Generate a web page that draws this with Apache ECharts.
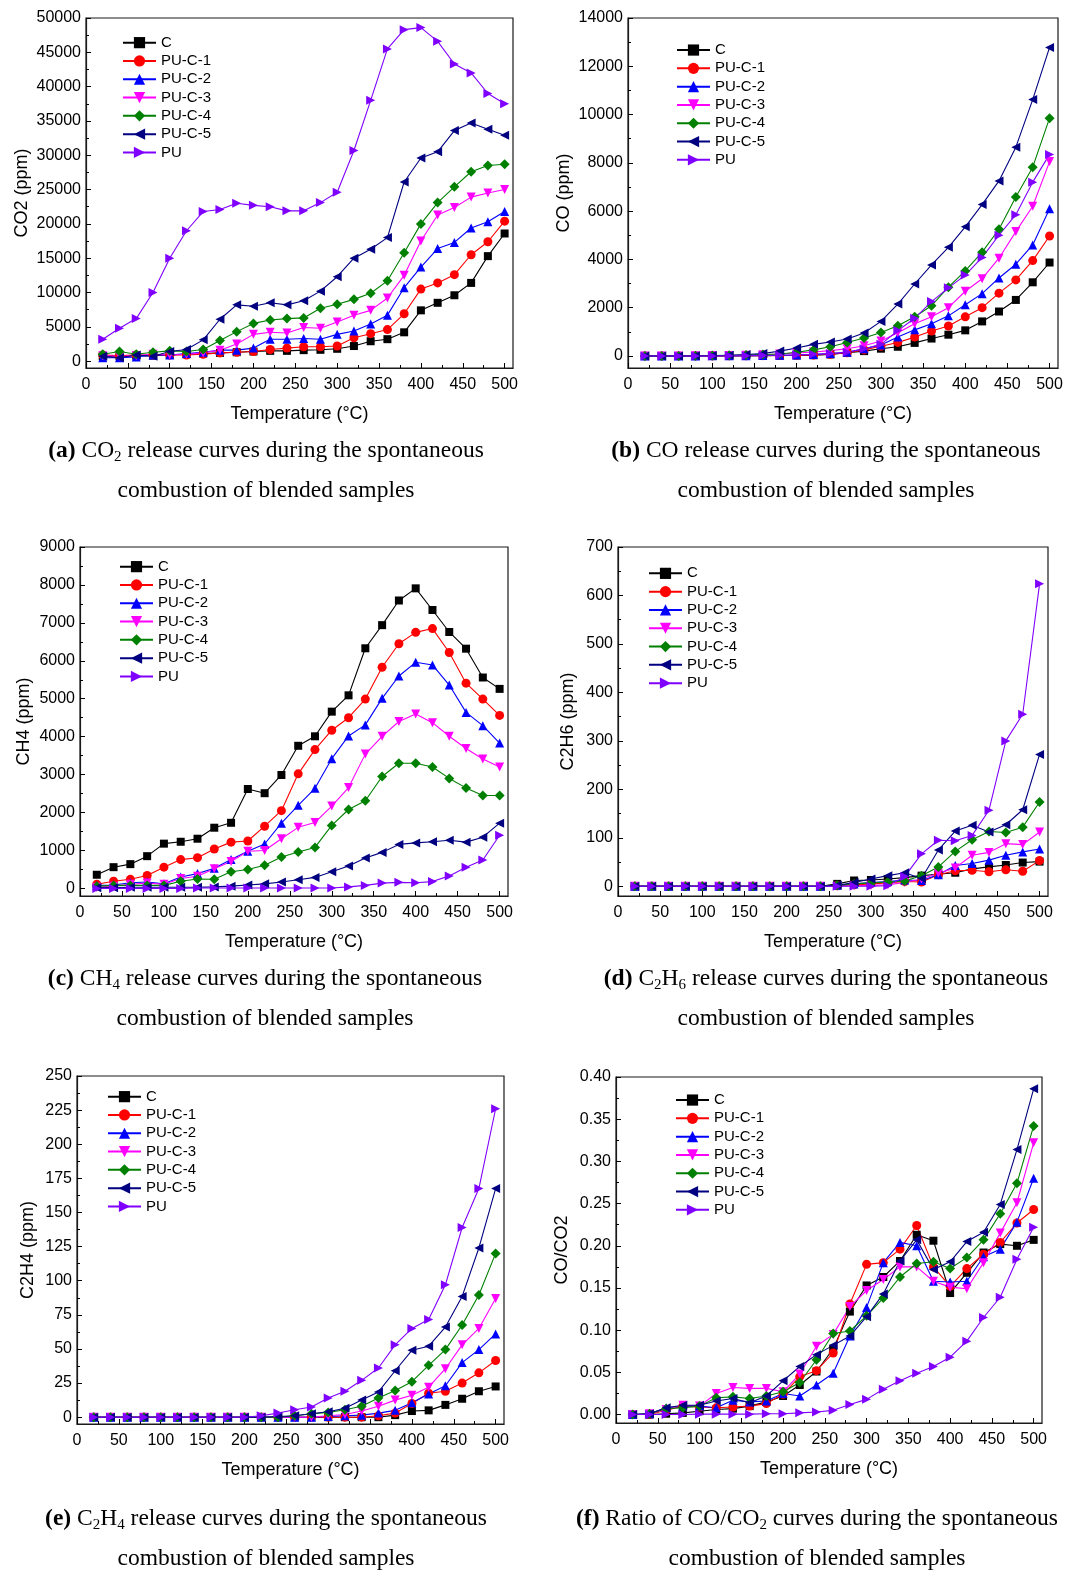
<!DOCTYPE html>
<html>
<head>
<meta charset="utf-8">
<script src="https://cdn.jsdelivr.net/npm/echarts@6/dist/echarts.min.js"></script>
<style>
html,body{margin:0;padding:0;background:#fff;}
#chart{width:1067px;height:1570px;}
</style>
</head>
<body>
<div id="chart"></div>
<script>
// ---------- shared data ----------
const temperature = [20,40,60,80,100,120,140,160,180,200,220,240,260,280,300,320,340,360,380,400,420,440,460,480,500];
const seriesNames = ['C','PU-C-1','PU-C-2','PU-C-3','PU-C-4','PU-C-5','PU'];
const xTicks = [0,50,100,150,200,250,300,350,400,450,500];

// ---------- (a) CO2 (ppm) ----------
const co2Ticks = [0,5000,10000,15000,20000,25000,30000,35000,40000,45000,50000];
const co2_C   = [700,700,800,800,900,1000,1100,1200,1300,1400,1500,1500,1600,1650,1800,2200,2900,3200,4200,7400,8500,9600,11400,15300,18600];
const co2_PU1 = [900,800,900,900,900,900,1000,1200,1300,1400,1700,1900,2100,2100,2200,3400,4000,4600,6900,10500,11400,12600,15500,17400,20400];
const co2_PU2 = [500,500,600,900,900,1100,1300,1600,1600,1900,3200,3200,3300,3200,3900,4400,5400,6700,10700,13700,16400,17300,19400,20300,21800];
const co2_PU3 = [800,700,800,1000,900,1000,1200,1600,2500,3900,4200,4100,4900,4800,5700,6700,7400,9200,12500,17500,21300,22400,23900,24500,25000];
const co2_PU4 = [1000,1400,1000,1300,1500,1400,1700,3000,4300,5500,6000,6200,6300,7700,8300,9000,9900,11700,15800,20000,23100,25400,27600,28500,28700];
const co2_PU5 = [700,500,900,700,1400,1700,3100,6100,8200,8000,8500,8200,8800,10200,12300,15000,16300,18000,26100,29600,30500,33600,34700,33800,32900];
const co2_PU  = [3200,4800,6200,10000,15000,19000,21800,22100,23000,22700,22500,21900,21900,23100,24600,30700,38000,45500,48300,48600,46600,43300,42000,39000,37500];

// ---------- (b) CO (ppm) ----------
const coTicks = [0,2000,4000,6000,8000,10000,12000,14000];
const co_C   = [0,0,0,0,0,0,5,10,15,20,30,60,130,200,300,380,540,720,880,1060,1430,1840,2320,3050,3870];
const co_PU1 = [0,0,0,0,0,5,8,10,15,25,40,70,130,250,400,560,780,1030,1240,1620,2000,2600,3150,3950,4970];
const co_PU2 = [0,0,0,0,5,8,10,15,25,40,60,100,150,300,450,780,1080,1330,1660,2120,2580,3230,3800,4600,6100];
const co_PU3 = [0,0,0,10,15,20,30,50,80,120,160,220,300,420,620,960,1330,1620,2000,2680,3200,4050,5150,6200,8050];
const co_PU4 = [0,0,0,10,20,30,40,60,80,150,250,380,560,740,970,1250,1620,2080,2850,3520,4300,5250,6580,7820,9850];
const co_PU5 = [0,0,0,10,15,30,60,100,200,330,480,580,700,950,1430,2150,2980,3770,4500,5350,6270,7250,8650,10620,12780];
const co_PU  = [0,0,0,0,0,5,10,20,30,50,70,100,150,300,480,1050,1560,2250,2820,3350,4080,5000,5850,7200,8350];

// ---------- (c) CH4 (ppm) ----------
const ch4Ticks = [0,1000,2000,3000,4000,5000,6000,7000,8000,9000];
const ch4_C   = [360,560,640,850,1180,1230,1310,1600,1730,2620,2510,2990,3760,4010,4660,5090,6330,6940,7590,7910,7340,6760,6320,5560,5260];
const ch4_PU1 = [110,190,240,340,560,760,810,1040,1220,1250,1640,2050,3020,3660,4170,4500,4990,5830,6450,6750,6850,6220,5410,4990,4560];
const ch4_PU2 = [80,90,150,170,120,300,390,530,760,980,1170,1720,2190,2640,3420,4020,4310,5010,5600,5960,5890,5360,4640,4290,3830];
const ch4_PU3 = [30,60,110,140,110,260,320,520,710,980,1000,1310,1610,1740,2170,2660,3540,4010,4400,4600,4370,4010,3690,3410,3200];
const ch4_PU4 = [60,80,80,80,80,190,250,240,440,500,610,830,960,1080,1660,2080,2310,2950,3300,3300,3200,2900,2650,2450,2450];
const ch4_PU5 = [20,20,30,30,30,30,30,40,60,90,120,170,230,290,440,590,800,950,1160,1200,1230,1270,1220,1350,1720];
const ch4_PU  = [0,0,0,0,0,0,10,10,10,10,10,10,10,10,10,40,80,140,160,150,180,330,560,750,1400];

// ---------- (d) C2H6 (ppm) ----------
const c2h6Ticks = [0,100,200,300,400,500,600,700];
const c2h6_C   = [0,0,0,0,0,0,0,0,0,0,0,0,5,12,13,15,18,22,25,28,36,40,44,49,51];
const c2h6_PU1 = [0,0,0,0,0,0,0,0,0,0,0,0,1,3,5,7,10,9,24,32,33,30,34,31,53];
const c2h6_PU2 = [0,0,0,0,0,0,0,0,0,0,0,0,2,5,8,10,13,12,24,43,47,54,64,71,77];
const c2h6_PU3 = [0,0,0,0,0,0,0,0,0,0,0,0,0,1,2,3,8,15,27,38,64,70,88,86,112];
const c2h6_PU4 = [0,0,0,0,0,0,0,0,0,0,0,0,2,5,7,9,11,22,40,72,96,113,111,122,174];
const c2h6_PU5 = [0,0,0,0,0,0,0,0,0,0,0,0,2,8,15,22,28,16,75,114,126,112,127,158,272];
const c2h6_PU  = [0,0,0,0,0,0,0,0,0,0,0,0,0,0,0,1,20,67,95,94,105,157,300,355,624];

// ---------- (e) C2H4 (ppm) ----------
const c2h4Ticks = [0,25,50,75,100,125,150,175,200,225,250];
const c2h4_C   = [0,0,0,0,0,0,0,0,0,0,0,0,0,0,0,0,0,0,1.5,4.5,5,9,13.5,19,22.5];
const c2h4_PU1 = [0,0,0,0,0,0,0,0,0,0,0,0,0,0,0,0,0,1,3,10,17.5,19,25,32.5,41.5];
const c2h4_PU2 = [0,0,0,0,0,0,0,0,0,0,0,0,0,0,0.5,1,1.5,3,5,10.5,17,23,40,49.5,61];
const c2h4_PU3 = [0,0,0,0,0,0,0,0,0,0,0,0,0,0,1,2,4.5,8,12.5,16,22,35.5,53,65,87];
const c2h4_PU4 = [0,0,0,0,0,0,0,0,0,0,0,0,1,2.5,3.5,5.5,8,14,19.5,26,38,49.5,67.5,89.5,120];
const c2h4_PU5 = [0,0,0,0,0,0,0,0,0,0,0,0.5,1,2.5,4,6.5,12.5,18.5,34,49,52,66,88.5,124,167.5];
const c2h4_PU  = [0,0,0,0,0,0,0,0,0,0,1,3,5.5,7.5,14,19,27,36,53,65,71.5,97,139,167.5,226];

// ---------- (f) CO/CO2 ----------
const ratioTicks = [0,0.05,0.10,0.15,0.20,0.25,0.30,0.35,0.40];
const ratio_C   = [0,0,0.001,0.002,0.004,0.006,0.007,0.010,0.015,0.022,0.035,0.051,0.078,0.122,0.153,0.163,0.182,0.213,0.206,0.144,0.168,0.192,0.202,0.200,0.207];
const ratio_PU1 = [0,0,0.005,0.010,0.009,0.008,0.009,0.010,0.013,0.024,0.045,0.052,0.073,0.131,0.178,0.180,0.196,0.224,0.175,0.152,0.173,0.190,0.204,0.227,0.243];
const ratio_PU2 = [0,0.001,0.008,0.010,0.010,0.008,0.017,0.015,0.016,0.025,0.022,0.035,0.049,0.093,0.127,0.180,0.204,0.200,0.158,0.157,0.158,0.187,0.196,0.228,0.280];
const ratio_PU3 = [0,0.001,0.006,0.011,0.010,0.025,0.032,0.031,0.031,0.027,0.048,0.081,0.095,0.128,0.147,0.160,0.175,0.175,0.158,0.151,0.149,0.180,0.215,0.251,0.322];
const ratio_PU4 = [0,0.001,0.007,0.008,0.010,0.020,0.021,0.019,0.022,0.027,0.038,0.065,0.096,0.099,0.117,0.138,0.163,0.179,0.181,0.173,0.186,0.207,0.238,0.274,0.342];
const ratio_PU5 = [0,0.001,0.008,0.011,0.011,0.016,0.019,0.014,0.022,0.040,0.057,0.071,0.082,0.093,0.116,0.143,0.182,0.207,0.172,0.181,0.205,0.216,0.249,0.314,0.386];
const ratio_PU  = [0,0,0,0,0.0005,0.0005,0.0005,0.0005,0.001,0.001,0.002,0.003,0.005,0.012,0.018,0.030,0.040,0.049,0.057,0.068,0.087,0.115,0.139,0.184,0.222];

// ---------- captions ----------
const captions = [
  ['{b|(a)} CO{s|2} release curves during the spontaneous', 'combustion of blended samples'],
  ['{b|(b)} CO release curves during the spontaneous', 'combustion of blended samples'],
  ['{b|(c)} CH{s|4} release curves during the spontaneous', 'combustion of blended samples'],
  ['{b|(d)} C{s|2}H{s|6} release curves during the spontaneous', 'combustion of blended samples'],
  ['{b|(e)} C{s|2}H{s|4} release curves during the spontaneous', 'combustion of blended samples'],
  ['{b|(f)} Ratio of CO/CO{s|2} curves during the spontaneous', 'combustion of blended samples']
];

// ---------- styles ----------
const seriesColors  = ['#000000','#ff0000','#0000ff','#ff00ff','#008000','#000080','#8000ff'];
const seriesSymbols = ['rect','circle','triangle','triangle','diamond','triangle','triangle'];
const seriesRotate  = [0,0,0,180,0,90,-90];
const seriesSizes   = [8,9,9,9,10,9,9];

const panels = [
  {grid:[86,18,427,350],  yName:'CO2 (ppm)',  yMin:-1000, yMax:50000, ticks:co2Ticks,  nameGap:55, legend:[122,33.5], cap:[266,451], values:[co2_C,co2_PU1,co2_PU2,co2_PU3,co2_PU4,co2_PU5,co2_PU], dec:0},
  {grid:[628,18,430,350], yName:'CO (ppm)',   yMin:-500,  yMax:14000, ticks:coTicks,   nameGap:55, legend:[676,40.9], cap:[826,451], values:[co_C,co_PU1,co_PU2,co_PU3,co_PU4,co_PU5,co_PU], dec:0},
  {grid:[80,547,428,349], yName:'CH4 (ppm)',  yMin:-200,  yMax:9000,  ticks:ch4Ticks,  nameGap:47, legend:[119,557.5], cap:[265,979], values:[ch4_C,ch4_PU1,ch4_PU2,ch4_PU3,ch4_PU4,ch4_PU5,ch4_PU], dec:0},
  {grid:[618,547,430,349],yName:'C2H6 (ppm)', yMin:-20,   yMax:700,   ticks:c2h6Ticks, nameGap:41, legend:[648,564.2], cap:[826,979], values:[c2h6_C,c2h6_PU1,c2h6_PU2,c2h6_PU3,c2h6_PU4,c2h6_PU5,c2h6_PU], dec:0},
  {grid:[77,1076,427,348],yName:'C2H4 (ppm)', yMin:-5,    yMax:250,   ticks:c2h4Ticks, nameGap:40, legend:[107,1087.5], cap:[266,1519], values:[c2h4_C,c2h4_PU1,c2h4_PU2,c2h4_PU3,c2h4_PU4,c2h4_PU5,c2h4_PU], dec:0},
  {grid:[616,1077,426,346],yName:'CO/CO2',    yMin:-0.01, yMax:0.40,  ticks:ratioTicks,nameGap:45, legend:[675,1090.9], cap:[817,1519], values:[ratio_C,ratio_PU1,ratio_PU2,ratio_PU3,ratio_PU4,ratio_PU5,ratio_PU], dec:2}
];

const SANS = 'Liberation Sans';
const SERIF = 'Liberation Serif';
function mids(arr){ const m=[]; for(let i=0;i<arr.length-1;i++) m.push((arr[i]+arr[i+1])/2); return m; }

const grids=[], xAxes=[], yAxes=[], legends=[], series=[], graphics=[];
panels.forEach((p,k)=>{
  grids.push({left:p.grid[0], top:p.grid[1], width:p.grid[2], height:p.grid[3], show:true, borderColor:'#1a1a1a', borderWidth:1.2, backgroundColor:'transparent', containLabel:false});
  const xi = xAxes.length, yi = yAxes.length;
  xAxes.push({gridIndex:k, type:'value', min:0, max:510, position:'bottom',
    name:'Temperature (°C)', nameLocation:'middle', nameGap:37,
    nameTextStyle:{fontFamily:SANS, fontSize:18, color:'#000'},
    axisLine:{show:true, onZero:false, lineStyle:{color:'#1a1a1a', width:1.2}},
    axisTick:{show:true, inside:true, length:5, customValues:xTicks, lineStyle:{color:'#000'}},
    axisLabel:{show:true, customValues:xTicks, margin:9, fontFamily:SANS, fontSize:16, color:'#000'},
    splitLine:{show:false}});
  xAxes.push({gridIndex:k, type:'value', min:0, max:510, position:'bottom',
    axisLine:{show:false, onZero:false},
    axisTick:{show:true, inside:true, length:3, customValues:mids(xTicks), lineStyle:{color:'#000'}},
    axisLabel:{show:false}, splitLine:{show:false}});
  yAxes.push({gridIndex:k, type:'value', min:p.yMin, max:p.yMax, position:'left',
    name:p.yName, nameLocation:'middle', nameGap:p.nameGap, nameRotate:90,
    nameTextStyle:{fontFamily:SANS, fontSize:18, color:'#000'},
    axisLine:{show:true, onZero:false, lineStyle:{color:'#1a1a1a', width:1.2}},
    axisTick:{show:true, inside:true, length:5, customValues:p.ticks, lineStyle:{color:'#000'}},
    axisLabel:{show:true, customValues:p.ticks, margin:5, fontFamily:SANS, fontSize:16, color:'#000',
      formatter:(v)=>Number(v).toFixed(p.dec)},
    splitLine:{show:false}});
  yAxes.push({gridIndex:k, type:'value', min:p.yMin, max:p.yMax, position:'left',
    axisLine:{show:false, onZero:false},
    axisTick:{show:true, inside:true, length:3, customValues:mids(p.ticks), lineStyle:{color:'#000'}},
    axisLabel:{show:false}, splitLine:{show:false}});
  legends.push({orient:'vertical', left:p.legend[0], top:p.legend[1], padding:0, itemGap:0,
    itemWidth:33, itemHeight:14, selectedMode:false, data:seriesNames,
    textStyle:{fontFamily:SANS, fontSize:15, color:'#000', lineHeight:18.3}});
  seriesNames.forEach((name,i)=>{
    series.push({type:'line', name:name, xAxisIndex:xi, yAxisIndex:yi,
      data: temperature.map((t,j)=>[t, p.values[i][j]]),
      symbol:seriesSymbols[i], symbolSize:seriesSizes[i], symbolRotate:seriesRotate[i],
      showAllSymbol:true,
      lineStyle:{color:seriesColors[i], width:1.1},
      itemStyle:{color:seriesColors[i], borderWidth:0},
      emphasis:{disabled:true}, animation:false});
  });
  const capStyleBase = {fontFamily:SERIF, fontSize:23.5, fill:'#000', align:'center', verticalAlign:'middle', lineHeight:28,
    rich:{b:{fontFamily:SERIF, fontSize:23.5, fontWeight:'bold', lineHeight:28},
          s:{fontFamily:SERIF, fontSize:15, verticalAlign:'bottom', lineHeight:15}}};
  graphics.push({type:'text', x:p.cap[0], y:p.cap[1], style:Object.assign({text:captions[k][0]}, capStyleBase)});
  graphics.push({type:'text', x:p.cap[0], y:p.cap[1]+40, style:Object.assign({text:captions[k][1]}, capStyleBase)});
});

const chart = echarts.init(document.getElementById('chart'), null, {width:1067, height:1570});
chart.setOption({
  backgroundColor:'#fff',
  animation:false,
  grid:grids, xAxis:xAxes, yAxis:yAxes, legend:legends, series:series, graphic:graphics
});
</script>
</body>
</html>
